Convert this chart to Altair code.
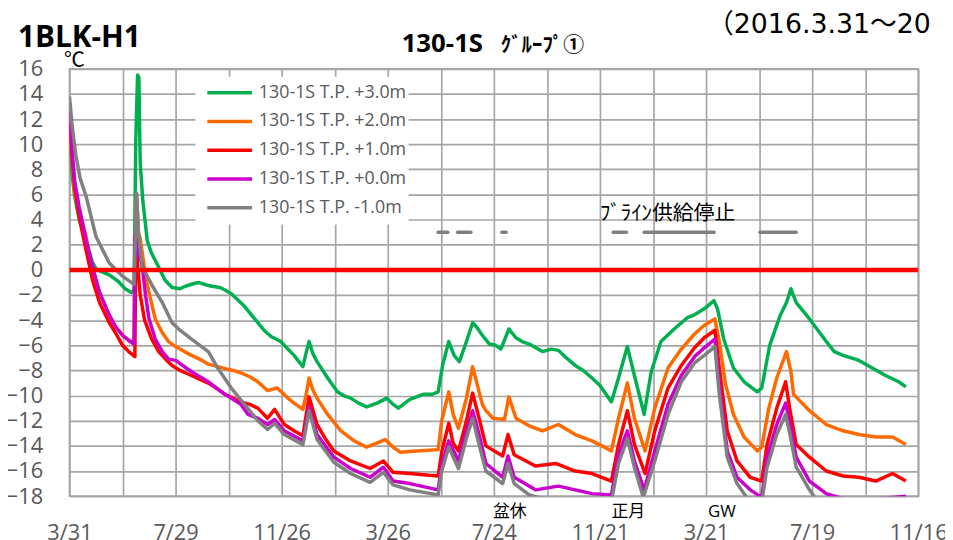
import json
import altair as alt
import pandas as pd

FONT = "'Open Sans', 'Noto Sans CJK JP', sans-serif"
JP = "'Noto Sans CJK JP', sans-serif"
WIDE = "'DejaVu Sans', 'Noto Sans CJK JP', sans-serif"

SERIES = ["130-1S T.P. +3.0m", "130-1S T.P. +2.0m", "130-1S T.P. +1.0m",
          "130-1S T.P. +0.0m", "130-1S T.P. -1.0m"]
COLORS = ["#00B050", "#FF6A00", "#FF0000", "#CC00CC", "#808080"]
WIDTHS = [3.5, 3.5, 2.0, 2.2, 3.5]

# (day since 2016-03-31, temperature degC)
p3 = [(0,10.4),(3,7.5),(6,5.8),(11,4.0),(19,2.3),(26,0.6),(30,0.1),(35,-0.1),(45,-0.4),(55,-0.9),
      (63,-1.5),(70,-1.8),(73,-1.6),(75,10.3),(77,15.5),(78.5,15.3),(80,8.5),(83,5.5),(88,2.3),(93,1.3),
      (101,0.2),(108,-0.8),(116,-1.4),(125,-1.5),(131,-1.3),(140,-1.1),(146,-1.0),(155,-1.2),(161,-1.3),
      (170,-1.4),(176,-1.6),(183,-1.9),(192,-2.5),(198,-2.9),(206,-3.6),(213,-4.2),(220,-4.8),(228,-5.3),
      (239,-5.7),(247,-6.3),(254,-6.8),(264,-7.7),(268,-6.5),(271,-5.7),(275,-6.6),(280,-7.3),(292,-8.6),
      (303,-9.7),(310,-10.0),(318,-10.2),(327,-10.6),(336,-10.9),(348,-10.6),(359,-10.2),(366,-10.7),
      (372,-11.0),(385,-10.3),(400,-9.9),(410,-9.9),(417,-9.7),(422,-7.6),(429,-5.7),(435,-6.8),(441,-7.3),
      (449,-5.7),(456,-4.2),(460,-4.5),(467,-5.2),(475,-5.9),(482,-6.0),(488,-6.3),(497,-4.7),(505,-5.4),
      (512,-5.7),(520,-5.9),(535,-6.5),(545,-6.3),(553,-6.4),(562,-7.0),(572,-7.6),(581,-8.0),(591,-8.6),
      (600,-9.2),(613,-10.5),(621,-8.6),(631,-6.1),(639,-8.4),(650,-11.5),(658,-8.1),(669,-5.7),(684,-4.7),
      (699,-3.8),(706,-3.6),(718,-3.1),(729,-2.45),(733,-3.1),(740,-5.5),(751,-7.8),(763,-8.9),(778,-9.7),
      (783,-9.4),(792,-6.0),(804,-3.6),(811,-2.6),(816,-1.5),(822,-2.6),(837,-3.9),(856,-5.7),(865,-6.5),
      (875,-6.8),(893,-7.2),(908,-7.8),(923,-8.4),(938,-8.9),(946,-9.3)]

p2 = [(0,11.0),(3,8.5),(6,6.0),(11,4.75),(19,2.6),(26,-0.2),(34,-1.8),(45,-3.6),(52,-4.5),(60,-5.2),
      (67,-5.6),(73,-5.9),(75,4.5),(76,5.8),(78,3.0),(80,2.5),(86,-0.5),(90,-1.8),(97,-3.9),(105,-5.0),
      (112,-5.7),(120,-6.1),(130,-6.5),(138,-6.8),(150,-7.2),(157,-7.5),(168,-7.7),(176,-7.85),(185,-8.0),
      (194,-8.2),(204,-8.5),(213,-8.9),(224,-9.6),(235,-9.4),(247,-10.2),(256,-10.7),(264,-11.1),(268,-9.8),
      (271,-8.6),(275,-9.5),(280,-10.2),(292,-11.5),(307,-12.8),(322,-13.6),(336,-14.1),(347,-13.8),
      (357,-13.5),(366,-14.1),(374,-14.5),(393,-14.4),(417,-14.3),(421,-12.0),(429,-9.7),(434,-11.5),
      (440,-12.6),(449,-10.2),(456,-7.7),(460,-8.8),(464,-9.9),(467,-10.7),(471,-11.2),(479,-11.8),
      (492,-11.9),(497,-10.1),(505,-11.8),(520,-12.4),(535,-12.8),(553,-12.3),(572,-13.1),(591,-13.6),
      (605,-14.1),(613,-14.4),(621,-11.8),(631,-9.0),(639,-11.8),(651,-14.4),(662,-11.0),(677,-7.8),
      (692,-6.3),(707,-5.1),(718,-4.4),(730,-3.9),(735,-5.7),(742,-9.1),(751,-11.5),(763,-13.3),(778,-14.4),
      (783,-14.1),(791,-11.0),(800,-8.6),(811,-6.5),(816,-8.1),(819,-9.9),(837,-11.2),(856,-12.3),
      (875,-12.8),(893,-13.1),(912,-13.3),(931,-13.3),(946,-13.9)]

p1 = [(0,11.8),(3,9.0),(6,6.5),(11,4.2),(19,1.5),(26,-0.8),(34,-2.6),(45,-4.2),(52,-5.0),(60,-6.0),
      (67,-6.5),(74,-6.9),(75,3.0),(77,0.5),(80,-2.0),(85,-4.0),(93,-5.5),(101,-6.5),(110,-7.2),(116,-7.6),
      (125,-8.0),(138,-8.4),(150,-8.8),(157,-9.0),(168,-9.5),(176,-9.9),(185,-10.2),(194,-10.5),(204,-10.7),
      (213,-11.0),(224,-11.8),(232,-11.1),(243,-12.3),(254,-12.8),(264,-13.2),(271,-10.1),(280,-12.3),
      (290,-13.5),(299,-14.4),(318,-15.2),(340,-15.8),(355,-15.2),(366,-16.1),(385,-16.2),(400,-16.3),
      (417,-16.4),(421,-14.5),(429,-12.2),(434,-13.8),(440,-14.4),(449,-12.0),(456,-9.8),(464,-12.0),
      (471,-14.0),(490,-14.8),(496,-13.1),(503,-14.7),(527,-15.6),(550,-15.4),(572,-16.0),(591,-16.2),
      (613,-16.8),(621,-13.9),(631,-11.2),(639,-13.9),(651,-16.2),(662,-12.8),(677,-9.4),(692,-7.6),
      (707,-6.2),(718,-5.4),(730,-4.8),(735,-7.8),(744,-12.8),(755,-15.2),(770,-16.5),(783,-16.8),
      (789,-13.9),(800,-11.0),(810,-8.9),(815,-11.2),(822,-13.9),(837,-14.9),(856,-16.0),(875,-16.4),
      (893,-16.5),(912,-16.8),(931,-16.2),(946,-16.8)]

p0 = [(0,12.6),(3,9.5),(6,7.0),(11,5.0),(19,2.3),(26,0.3),(34,-1.8),(45,-3.6),(52,-4.5),(60,-5.2),
      (67,-5.6),(73,-5.9),(74,2.8),(77,1.5),(82,0.5),(86,-2.0),(90,-3.9),(97,-5.5),(105,-6.5),(112,-7.1),
      (120,-7.2),(138,-8.1),(157,-8.9),(176,-9.9),(194,-10.7),(202,-11.5),(213,-11.8),(224,-12.3),
      (232,-11.9),(243,-12.8),(264,-13.6),(271,-10.9),(280,-13.1),(299,-14.9),(318,-15.8),(340,-16.5),
      (355,-15.7),(366,-16.8),(385,-17.0),(417,-17.5),(421,-15.5),(429,-13.6),(440,-15.2),(449,-12.8),
      (456,-11.2),(464,-13.3),(471,-15.4),(490,-16.5),(496,-14.8),(503,-16.5),(527,-17.5),(553,-17.2),
      (572,-17.5),(591,-17.8),(613,-17.9),(621,-14.7),(631,-12.8),(639,-15.2),(650,-17.5),(662,-14.4),
      (677,-10.7),(692,-8.4),(707,-6.9),(718,-6.2),(730,-5.5),(735,-9.1),(744,-14.4),(755,-16.5),
      (770,-17.5),(783,-18.1),(789,-14.9),(800,-12.3),(810,-10.6),(815,-12.3),(822,-14.9),(837,-16.8),
      (856,-17.8),(875,-18.2),(893,-18.3),(912,-18.2),(931,-18.1),(946,-18.0)]

m1 = [(0,13.8),(3,11.5),(7,9.2),(12,7.3),(19,5.8),(30,2.65),(45,0.55),(60,-0.5),(73,-1.15),(76,6.1),
      (78,3.0),(82,0.3),(94,-1.3),(105,-2.6),(116,-4.2),(125,-4.8),(138,-5.5),(157,-6.5),(168,-7.85),
      (183,-9.4),(198,-10.7),(213,-12.0),(224,-12.7),(232,-12.2),(243,-13.1),(264,-13.9),(271,-11.2),
      (280,-13.5),(299,-15.3),(318,-16.2),(340,-16.9),(355,-16.1),(366,-17.1),(385,-17.5),(417,-17.9),
      (421,-16.0),(429,-14.1),(440,-15.8),(449,-13.4),(456,-11.8),(464,-14.1),(471,-16.0),(490,-17.0),
      (496,-15.4),(503,-17.0),(520,-17.9),(540,-18.3),(580,-18.4),(613,-18.4),(621,-15.4),(631,-13.4),
      (639,-15.7),(649,-18.1),(662,-15.2),(677,-11.5),(692,-8.9),(707,-7.4),(718,-6.8),(730,-6.1),
      (735,-9.9),(744,-14.9),(755,-17.0),(766,-18.1),(783,-18.5),(789,-15.7),(800,-13.1),(810,-11.5),
      (815,-13.1),(822,-15.7),(837,-17.5),(844,-18.2),(860,-18.6)]

TICK_LABELS = ["3/31", "7/29", "11/26", "3/26", "7/24", "11/21", "3/21", "7/19", "11/16"]

BRINE_LABEL = "ﾌﾞﾗｲﾝ供給停止"
BRINE_START = [417, 439, 489, 615, 650, 781]
BRINE_END = [428, 454, 494, 630, 729, 822]
BRINE_LEVEL = 3

EVENTS = ["盆休", "正月", "GW"]
EVENT_DAYS = [498, 632, 738]

rows = []
for name, pts in zip(SERIES, [p3, p2, p1, p0, m1]):
    for d, v in pts:
        rows.append({"series": name, "day": d, "temp": v})
df = pd.DataFrame(rows)

label_js = json.dumps(TICK_LABELS)
x_label_expr = f"datum.value % 120 == 0 ? {label_js}[datum.value / 120] : ''"

xscale = alt.Scale(domain=[0, 960], nice=False, zero=False)
yscale = alt.Scale(domain=[-18, 16], nice=False)

X_AXIS = alt.Axis(values=list(range(0, 961, 60)), labelExpr=x_label_expr, title=None,
                  labelOverlap=False, labelFlush=False, labelPadding=27, labelBaseline="top")
Y_AXIS = alt.Axis(values=list(range(-18, 17, 2)), title="℃", titleAngle=0,
                  titleAlign="left", titleBaseline="alphabetic", titleX=-6, titleY=-2,
                  titleFontSize=21, titleFontWeight="normal", titleColor="black",
                  titleFont=FONT, labelPadding=27, labelOverlap=False, labelFlush=False)

legend = alt.Legend(title=None, orient="none", legendX=127, legendY=8, fillColor="white",
                    padding=2, symbolType="stroke", symbolSize=2025, clipHeight=28.3,
                    rowPadding=0, labelFontSize=18, labelColor="#595959", labelFont=FONT,
                    symbolOffset=8, labelOffset=5, labelLimit=0)

lines = alt.Chart(df).mark_line(clip=True, strokeJoin="round").encode(
    x=alt.X("day:Q", scale=xscale, axis=X_AXIS),
    y=alt.Y("temp:Q", scale=yscale, axis=Y_AXIS),
    color=alt.Color("series:N", scale=alt.Scale(domain=SERIES, range=COLORS), legend=legend),
    strokeWidth=alt.StrokeWidth("series:N", scale=alt.Scale(domain=SERIES, range=WIDTHS),
                                legend=legend),
)

zero = alt.Chart(pd.DataFrame({"temp": [0]})).mark_rule(color="#FF0000", strokeWidth=4.5).encode(
    y=alt.Y("temp:Q", scale=yscale, axis=Y_AXIS))

brine = alt.Chart(pd.DataFrame({"day": BRINE_START, "e": BRINE_END,
                                "temp": [BRINE_LEVEL] * len(BRINE_START)})).mark_rule(
    color="#808080", strokeWidth=3.5, strokeCap="round").encode(
    x=alt.X("day:Q", scale=xscale, axis=X_AXIS), x2="e:Q",
    y=alt.Y("temp:Q", scale=yscale, axis=Y_AXIS))

events = alt.Chart(pd.DataFrame({"label": EVENTS, "day": EVENT_DAYS})).mark_text(
    align="center", baseline="alphabetic", fontSize=17, font=FONT, color="black").encode(
    x=alt.X("day:Q", scale=xscale, axis=X_AXIS), y=alt.value(452), text="label:N")


def text_layer(txt, x, y, size, weight="normal", font=FONT, align="left"):
    return alt.Chart(pd.DataFrame({"t": [txt]})).mark_text(
        align=align, baseline="alphabetic", fontSize=size, fontWeight=weight, font=font,
        color="black").encode(text="t:N", x=alt.value(x), y=alt.value(y))


t_block = text_layer("1BLK-H1", -52, -22, 30, "bold")
t_main = text_layer("130-1S", 335, -17, 26, "bold")
t_group = text_layer("ｸﾞﾙｰﾌﾟ①", 435, -17, 21, "bold", JP)
t_period = text_layer("（2016.3.31～20", 643, -36, 27, "normal", WIDE)
t_brine = text_layer(BRINE_LABEL, 535, 153, 21, "normal", JP)

chart = alt.layer(lines, zero, brine, events, t_block, t_main, t_group, t_period, t_brine).properties(
    width=856, height=431,
    autosize=alt.AutoSizeParams(type="none"),
    padding={"left": 62, "top": 59, "right": 27, "bottom": 52},
    background="white",
).configure_view(stroke="#A6A6A6", strokeWidth=1.7).configure_axis(
    gridColor="#A6A6A6", gridWidth=1.7, domain=False, ticks=False,
    labelFont=FONT, labelColor="#595959", labelFontSize=22,
)

chart.save("out.html", embed_options={"renderer": "svg", "actions": False})
